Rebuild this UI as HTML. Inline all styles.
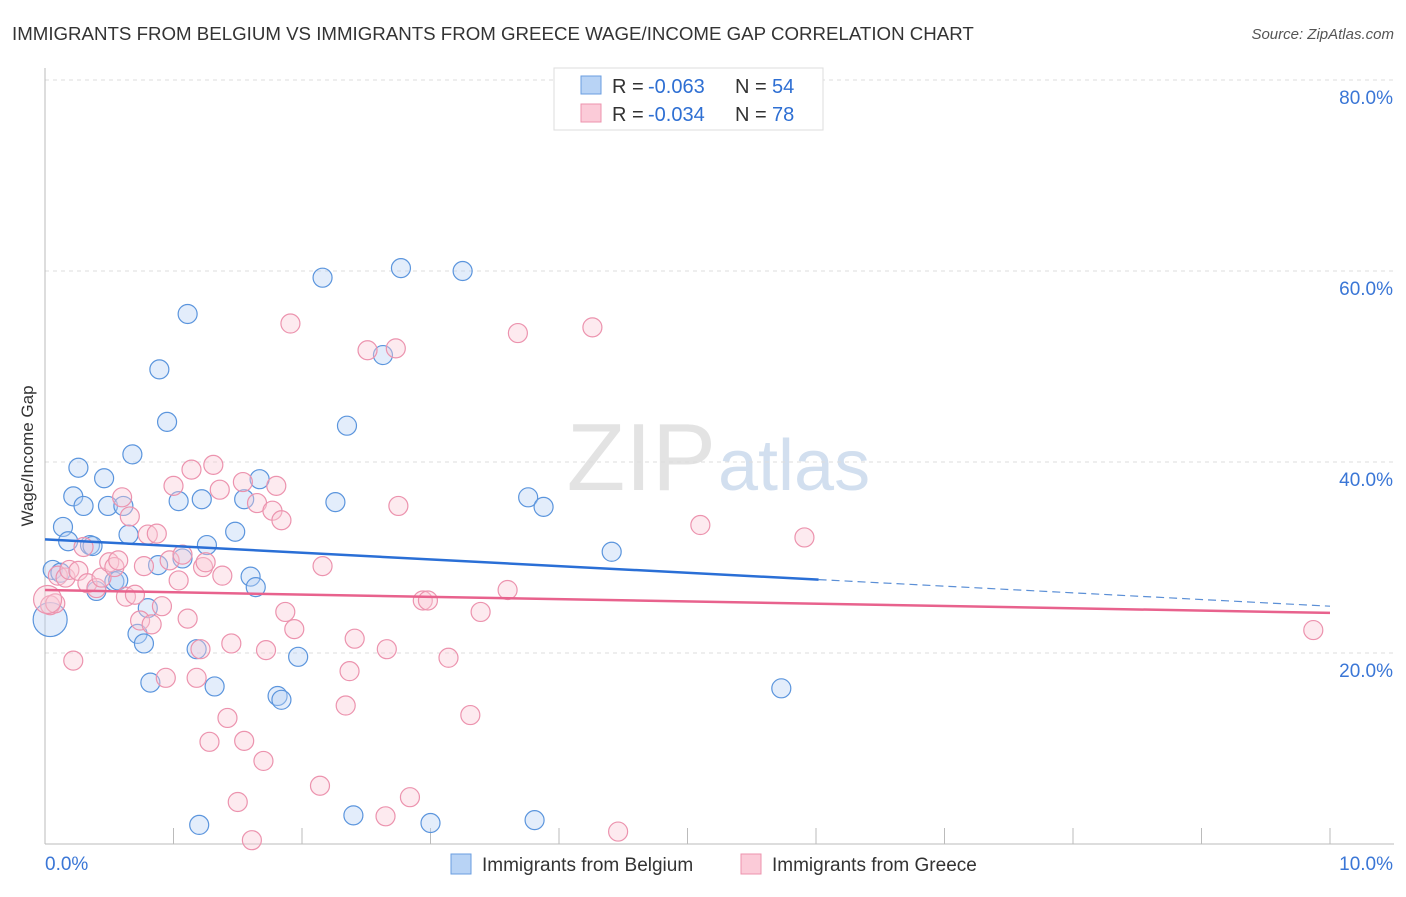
<!DOCTYPE html>
<html><head><meta charset="utf-8"><style>
body{margin:0;background:#fff;font-family:"Liberation Sans",sans-serif;}
svg text{font-family:"Liberation Sans",sans-serif;}
</style></head><body>
<svg id="chart" width="1406" height="892" xmlns="http://www.w3.org/2000/svg">
<text x="12" y="40" font-size="18.7" fill="#333">IMMIGRANTS FROM BELGIUM VS IMMIGRANTS FROM GREECE WAGE/INCOME GAP CORRELATION CHART</text>
<text x="1394" y="39" font-size="15" fill="#555" text-anchor="end" font-style="italic">Source: ZipAtlas.com</text>
<text x="716" y="490" font-size="96" fill="#ddd" text-anchor="end" font-family="Liberation Serif" opacity="0.8">ZIP</text>
<text x="718" y="490" font-size="72" fill="#c8d8ec" opacity="0.8">atlas</text>
<g id="grid"></g>
<g id="axes"></g>
<g id="pts"></g>
<g id="trends"></g>
<text transform="translate(33,456) rotate(-90)" font-size="17" fill="#333" text-anchor="middle">Wage/Income Gap</text>
<g>
<rect x="554" y="68" width="269" height="62" fill="#fff" stroke="#ddd"/>
<rect x="581" y="76" width="20" height="18" fill="#b8d3f5" stroke="#6a9ee0"/>
<rect x="581" y="104" width="20" height="18" fill="#fbcbd8" stroke="#ec93ae"/>
<text x="612" y="93" font-size="20" fill="#333">R =</text>
<text x="648" y="93" font-size="20" fill="#2e6fd3">-0.063</text>
<text x="735" y="93" font-size="20" fill="#333">N =</text>
<text x="772" y="93" font-size="20" fill="#2e6fd3">54</text>
<text x="612" y="121" font-size="20" fill="#333">R =</text>
<text x="648" y="121" font-size="20" fill="#2e6fd3">-0.034</text>
<text x="735" y="121" font-size="20" fill="#333">N =</text>
<text x="772" y="121" font-size="20" fill="#2e6fd3">78</text>
</g>
<g>
<rect x="451" y="854" width="20" height="20" fill="#b8d3f5" stroke="#6a9ee0"/>
<text x="482" y="871" font-size="19" fill="#333">Immigrants from Belgium</text>
<rect x="741" y="854" width="20" height="20" fill="#fbcbd8" stroke="#ec93ae"/>
<text x="772" y="871" font-size="19" fill="#333">Immigrants from Greece</text>
</g>
</svg>
<script>
const belgiumX=[0.06,0.12,0.14,0.18,0.22,0.26,0.30,0.35,0.37,0.40,0.46,0.49,0.54,0.57,0.61,0.65,0.68,0.72,0.77,0.80,0.82,0.88,0.89,0.95,1.04,1.07,1.11,1.18,1.20,1.22,1.26,1.32,1.48,1.55,1.60,1.64,1.67,1.81,1.84,1.97,2.16,2.26,2.35,2.40,2.63,2.77,3.00,3.25,3.76,3.81,3.88,4.41,5.73,0.04];
const belgiumY=[28.7,28.4,33.2,31.7,36.4,39.4,35.4,31.3,31.2,26.5,38.3,35.4,27.5,27.6,35.4,32.4,40.8,22.0,21.0,24.7,16.9,29.2,49.7,44.2,35.9,29.9,55.5,20.4,2.0,36.1,31.3,16.5,32.7,36.1,28.0,26.9,38.2,15.5,15.1,19.6,59.3,35.8,43.8,3.0,51.2,60.3,2.2,60.0,36.3,2.5,35.3,30.6,16.3,23.5];
const greeceX=[0.04,0.08,0.10,0.16,0.19,0.22,0.26,0.30,0.33,0.40,0.44,0.50,0.54,0.57,0.60,0.63,0.66,0.70,0.74,0.77,0.80,0.83,0.87,0.91,0.94,0.97,1.00,1.04,1.07,1.11,1.14,1.18,1.21,1.23,1.25,1.28,1.31,1.36,1.38,1.42,1.45,1.50,1.54,1.55,1.61,1.65,1.70,1.72,1.77,1.80,1.84,1.87,1.91,1.94,2.14,2.16,2.34,2.37,2.41,2.51,2.65,2.66,2.73,2.75,2.84,2.94,2.98,3.14,3.31,3.39,3.60,3.68,4.26,4.46,5.10,5.91,9.87,0.02];
const greeceY=[25.0,25.2,28.1,27.9,28.7,19.2,28.6,31.1,27.3,26.8,27.9,29.5,29.0,29.7,36.3,25.9,34.3,26.1,23.4,29.1,32.4,23.0,32.5,24.9,17.4,29.7,37.5,27.6,30.3,23.6,39.2,17.4,20.4,29.0,29.5,10.7,39.7,37.1,28.1,13.2,21.0,4.4,37.9,10.8,0.4,35.7,8.7,20.3,34.9,37.5,33.9,24.3,54.5,22.5,6.1,29.1,14.5,18.1,21.5,51.7,2.9,20.4,51.9,35.4,4.9,25.5,25.5,19.5,13.5,24.3,26.6,53.5,54.1,1.3,33.4,32.1,22.4,25.6];
const yTicks=[20,40,60,80];
const yTickLabels=["20.0%","40.0%","60.0%","80.0%"];
const xTicks=[0,1,2,3,4,5,6,7,8,9,10];
const belgiumTrend=[31.9,24.9];
const greeceTrend=[26.6,24.2];
const blueSolidEnd=6.02;
const NS="http://www.w3.org/2000/svg";
const sx=v=>45+v*128.5, sy=v=>844-v*9.55;
function mk(tag,attrs,parent){const e=document.createElementNS(NS,tag);for(const k in attrs)e.setAttribute(k,attrs[k]);parent.appendChild(e);return e;}
const gridG=document.getElementById('grid'),axesG=document.getElementById('axes'),ptsG=document.getElementById('pts'),trG=document.getElementById('trends');
yTicks.forEach((t,i)=>{
 const l=mk('line',{x1:45,x2:1394,y1:sy(t),y2:sy(t),stroke:'#ddd','stroke-dasharray':'4,4'},gridG);
 
 
 const tx=mk('text',{x:1393,y:sy(t)+24,'font-size':19,fill:'#3a76d6','text-anchor':'end'},gridG);
 tx.textContent=yTickLabels[i];
 
 
});
const topGrid=mk('line',{x1:45,x2:1394,y1:80,y2:80,stroke:'#ddd','stroke-dasharray':'4,4'},gridG);


const ya=mk('line',{x1:45,x2:45,y1:68,y2:844,stroke:'#bbb'},axesG);


const xa=mk('line',{x1:45,x2:1394,y1:844,y2:844,stroke:'#bbb'},axesG);


xTicks.forEach(t=>{
 const l=mk('line',{x1:sx(t),x2:sx(t),y1:828,y2:844,stroke:'#bbb'},axesG);
 
 
});
const xl0=mk('text',{x:45,y:870,'font-size':19,fill:'#3a76d6'},axesG);xl0.textContent='0.0%';


const xl1=mk('text',{x:1393,y:870,'font-size':19,fill:'#3a76d6','text-anchor':'end'},axesG);xl1.textContent='10.0%';


function draw(X,Y,fill,stroke,name,bigR){
 X.forEach((x,i)=>{
  const big=(i===X.length-1);
  const c=mk('circle',{cx:sx(x),cy:sy(Y[i]),r:big?bigR:9.5,fill:fill,'fill-opacity':0.4,stroke:stroke,'stroke-width':1.2},ptsG);
  
  
 });
}
draw(belgiumX,belgiumY,'#b8d3f5','#5b95dd','belgium-point',17);
draw(greeceX,greeceY,'#fbcbd8','#ec93ae','greece-point',14);
const bv=belgiumTrend[0]+(belgiumTrend[1]-belgiumTrend[0])*blueSolidEnd/10;
const b1=mk('line',{x1:sx(0),y1:sy(belgiumTrend[0]),x2:sx(blueSolidEnd),y2:sy(bv),stroke:'#2a6fd6','stroke-width':2.5},trG);


const b2=mk('line',{x1:sx(blueSolidEnd),y1:sy(bv),x2:sx(10),y2:sy(belgiumTrend[1]),stroke:'#5b8fd6','stroke-width':1.2,'stroke-dasharray':'8,5'},trG);


const g1=mk('line',{x1:sx(0),y1:sy(greeceTrend[0]),x2:sx(10),y2:sy(greeceTrend[1]),stroke:'#e8628d','stroke-width':2.5},trG);


</script>
</body></html>
